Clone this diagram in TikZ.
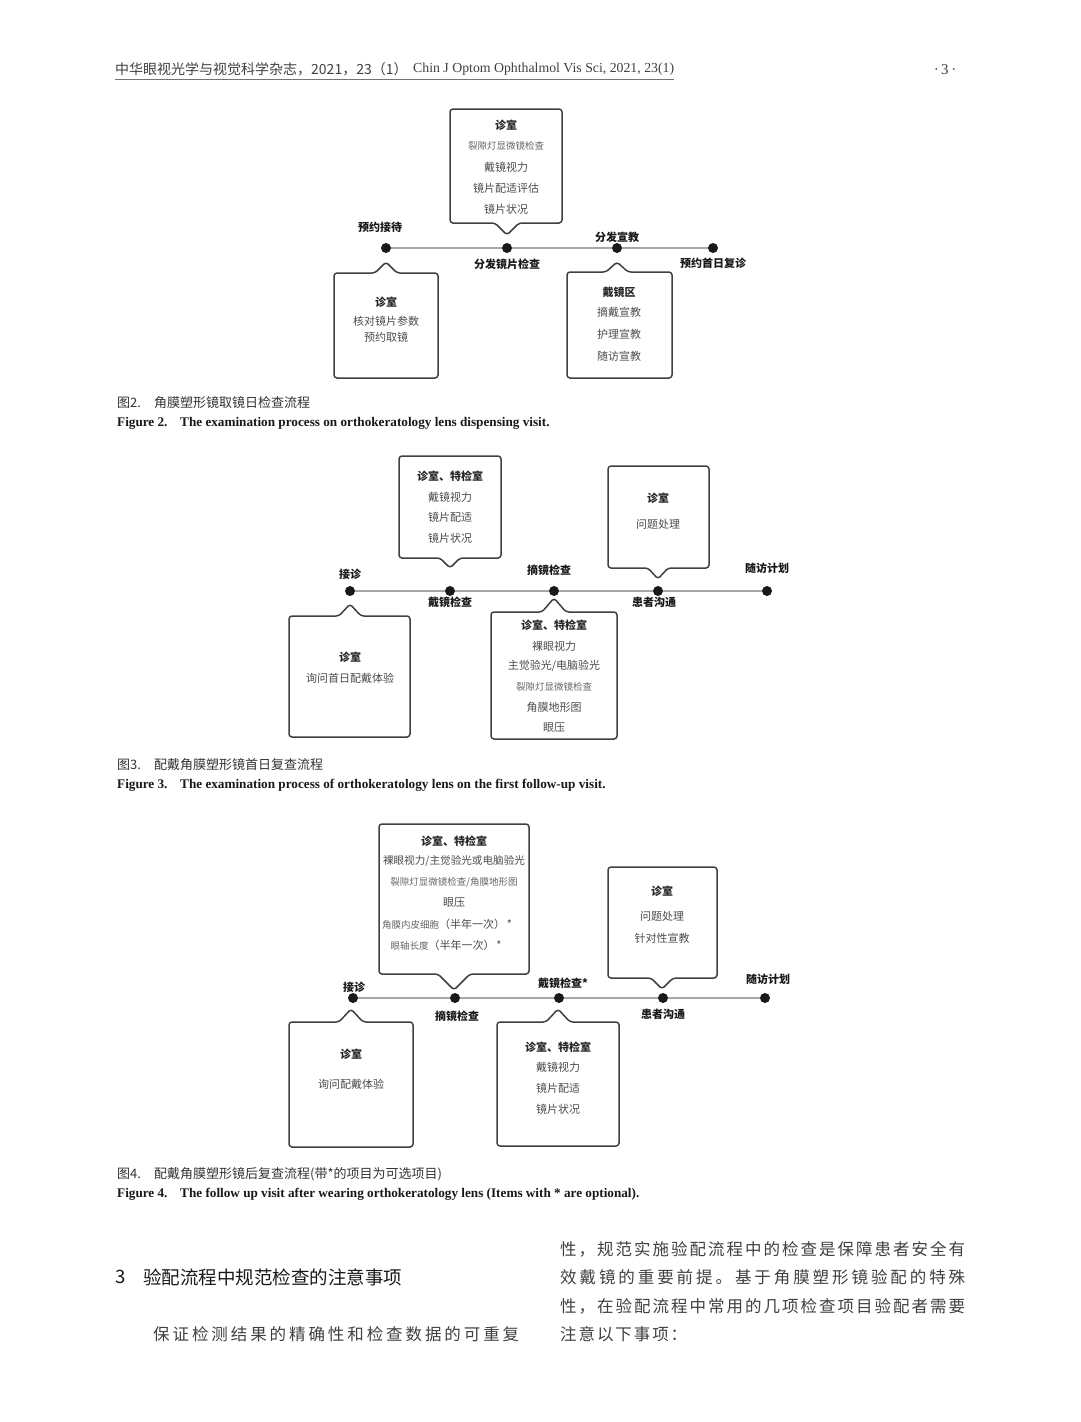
\documentclass[tikz,border=0pt]{standalone}
\usepackage{fontspec}
\setmainfont{Liberation Serif}
\newfontfamily\cjk{Noto Sans CJK SC}
\def\myspreadaux#1{\ifx\relax#1\else\hfil#1\expandafter\myspreadaux\fi}
\def\myspreadfirst#1{#1\myspreadaux}
\newcommand\myspread[2]{\makebox[#1][s]{\myspreadfirst#2\relax}}
\tikzset{
 bubble/.style={draw=black!75, line width=1.5pt, fill=white, rounded corners=3pt, line join=round},
 tl/.style={draw=black!35, line width=1.8pt},
 dot/.style={circle, fill=black!90, minimum size=10pt, inner sep=0pt},
 bt/.style={font=\cjk\fontsize{11}{13}\selectfont\bfseries, text=black!85, inner sep=0pt},
 it/.style={font=\cjk\fontsize{11}{13}\selectfont, text=black!70, inner sep=0pt},
 st/.style={font=\cjk\fontsize{9.5}{11}\selectfont, text=black!60, inner sep=0pt},
 lb/.style={font=\cjk\fontsize{11}{13}\selectfont\bfseries, text=black!90, inner sep=0pt},
 capc/.style={font=\cjk\fontsize{13}{15}\selectfont, text=black!80, inner sep=0pt, anchor=west},
 cape/.style={font=\fontsize{13.2}{15}\selectfont\bfseries, text=black!90, inner sep=0pt, anchor=west},
 body/.style={font=\cjk\fontsize{16.5}{20}\selectfont, text=black!75, inner sep=0pt, anchor=west},
}
\newcommand\bubdown[7]{\draw[bubble] (#1,#2) -- (#3,#2) -- (#3,#4) -- ({#5+#7},#4) -- (#5,#6) -- ({#5-#7},#4) -- (#1,#4) -- cycle;}
\newcommand\bubup[7]{\draw[bubble] (#1,#2) -- ({#5-#7},#2) -- (#5,#6) -- ({#5+#7},#2) -- (#3,#2) -- (#3,#4) -- (#1,#4) -- cycle;}
\begin{document}
\begin{tikzpicture}[x=1pt,y=-1pt]
\path[use as bounding box, fill=white] (0,0) rectangle (1080,1422);
% header
\node[anchor=west, inner sep=0pt, font=\cjk\fontsize{14}{16}\selectfont, text=black!75] (hcn) at (115,69) {中华眼视光学与视觉科学杂志，2021，23（1）};
\node[anchor=west, inner sep=0pt, font=\fontsize{13.8}{16}\selectfont, text=black!75] (hen) at (413,69) {Chin J Optom Ophthalmol Vis Sci, 2021, 23(1)};
\coordinate (ul1) at (115,79);
\coordinate (ul2) at (674,79);
\draw[black!55, line width=0.8pt] (ul1) -- (ul2);
\node[inner sep=0pt, font=\fontsize{15}{17}\selectfont, text=black!75] (pg) at (945,70) {·\,3\,·};

% ---------------- Figure 2
\bubdown{450}{109}{562}{223}{507}{235}{12}
\bubup{334}{273}{438}{378}{386}{262}{11}
\bubup{567}{272}{672}{378}{617}{262}{11}
\node[dot] (d21) at (386,248) {};
\node[dot] (d22) at (507,248) {};
\node[dot] (d23) at (617,248) {};
\node[dot] (d24) at (713,248) {};
\draw[tl] (d21) -- (d22) -- (d23) -- (d24);
\node[lb] (l21) at (380,227) {预约接待};
\node[lb] (l22) at (507,264) {分发镜片检查};
\node[lb] (l23) at (617,237) {分发宣教};
\node[lb] (l24) at (713,263) {预约首日复诊};
\node[bt] (t2a) at (506,125) {诊室};
\node[st] (t2b) at (506,146) {裂隙灯显微镜检查};
\node[it] (t2c) at (506,167) {戴镜视力};
\node[it] (t2d) at (506,188) {镜片配适评估};
\node[it] (t2e) at (506,209) {镜片状况};
\node[bt] (t2f) at (386,302) {诊室};
\node[it] (t2g) at (386,321) {核对镜片参数};
\node[it] (t2h) at (386,337) {预约取镜};
\node[bt] (t2i) at (619,292) {戴镜区};
\node[it] (t2j) at (619,312) {摘戴宣教};
\node[it] (t2k) at (619,334) {护理宣教};
\node[it] (t2l) at (619,356) {随访宣教};
\node[capc] (c2a) at (117,403) {图2.};
\node[capc] (c2b) at (154,403) {角膜塑形镜取镜日检查流程};
\node[cape] (c2c) at (117,423) {Figure 2.};
\node[cape] (c2d) at (180,423) {The examination process on orthokeratology lens dispensing visit.};

% ---------------- Figure 3
\bubdown{399}{456}{501}{558}{450}{568}{10}
\bubdown{608}{466}{709}{568}{658}{579}{10}
\bubup{289}{616}{410}{737}{350}{604}{11}
\bubup{491}{612}{617}{739}{554}{598}{12}
\node[dot] (d31) at (350,591) {};
\node[dot] (d32) at (450,591) {};
\node[dot] (d33) at (554,591) {};
\node[dot] (d34) at (658,591) {};
\node[dot] (d35) at (767,591) {};
\draw[tl] (d31) -- (d32) -- (d33) -- (d34) -- (d35);
\node[lb] (l31) at (350,574) {接诊};
\node[lb] (l32) at (450,602) {戴镜检查};
\node[lb] (l33) at (549,570) {摘镜检查};
\node[lb] (l34) at (654,602) {患者沟通};
\node[lb] (l35) at (767,568) {随访计划};
\node[bt] (t3a) at (450,476) {诊室、特检室};
\node[it] (t3b) at (450,497) {戴镜视力};
\node[it] (t3c) at (450,517) {镜片配适};
\node[it] (t3d) at (450,538) {镜片状况};
\node[bt] (t3e) at (658,498) {诊室};
\node[it] (t3f) at (658,524) {问题处理};
\node[bt] (t3g) at (350,657) {诊室};
\node[it] (t3h) at (350,678) {询问首日配戴体验};
\node[bt] (t3i) at (554,625) {诊室、特检室};
\node[it] (t3j) at (554,646) {裸眼视力};
\node[it] (t3k) at (554,666) {主觉验光/电脑验光};
\node[st] (t3l) at (554,687) {裂隙灯显微镜检查};
\node[it] (t3m) at (554,707) {角膜地形图};
\node[it] (t3n) at (554,728) {眼压};
\node[capc] (c3a) at (117,765) {图3.};
\node[capc] (c3b) at (154,765) {配戴角膜塑形镜首日复查流程};
\node[cape] (c3c) at (117,785) {Figure 3.};
\node[cape] (c3d) at (180,785) {The examination process of orthokeratology lens on the first follow-up visit.};

% ---------------- Figure 4
\bubdown{379}{824}{529}{974}{454}{990}{16}
\bubdown{608}{867}{717}{978}{662}{989}{11}
\bubup{289}{1022}{413}{1147}{351}{1009}{12}
\bubup{497}{1022}{619}{1146}{558}{1009}{12}
\node[dot] (d41) at (353,998) {};
\node[dot] (d42) at (455,998) {};
\node[dot] (d43) at (559,998) {};
\node[dot] (d44) at (663,998) {};
\node[dot] (d45) at (765,998) {};
\draw[tl] (d41) -- (d42) -- (d43) -- (d44) -- (d45);
\node[lb] (l41) at (354,987) {接诊};
\node[lb] (l42) at (457,1016) {摘镜检查};
\node[lb] (l43) at (563,983) {戴镜检查*};
\node[lb] (l44) at (663,1014) {患者沟通};
\node[lb] (l45) at (768,979) {随访计划};
\node[bt] (t4a) at (454,841) {诊室、特检室};
\node[it, font=\cjk\fontsize{10.6}{13}\selectfont] (t4b) at (454,861) {裸眼视力/主觉验光或电脑验光};
\node[st] (t4c) at (454,882) {裂隙灯显微镜检查/角膜地形图};
\node[it] (t4d) at (454,903) {眼压};
\node[it] (t4e) at (447,924) {{\fontsize{9.5}{11}\selectfont\color{black!60}角膜内皮细胞}（半年一次）\,*};
\node[it] (t4f) at (446,945) {{\fontsize{9.5}{11}\selectfont\color{black!60}眼轴长度}（半年一次）\,*};
\node[bt] (t4g) at (662,891) {诊室};
\node[it] (t4h) at (662,916) {问题处理};
\node[it] (t4i) at (662,938) {针对性宣教};
\node[bt] (t4j) at (351,1054) {诊室};
\node[it] (t4k) at (351,1084) {询问配戴体验};
\node[bt] (t4l) at (558,1047) {诊室、特检室};
\node[it] (t4m) at (558,1067) {戴镜视力};
\node[it] (t4n) at (558,1088) {镜片配适};
\node[it] (t4o) at (558,1109) {镜片状况};
\node[capc] (c4a) at (117,1174) {图4.};
\node[capc] (c4b) at (154,1174) {配戴角膜塑形镜后复查流程(带*的项目为可选项目)};
\node[cape] (c4c) at (117,1194) {Figure 4.};
\node[cape] (c4d) at (180,1194) {The follow up visit after wearing orthokeratology lens (Items with * are optional).};

% ---------------- body text
\node[body, font=\cjk\fontsize{18.5}{22}\selectfont, text=black!90] (s3n) at (115,1277) {3};
\node[body, font=\cjk\fontsize{18.5}{22}\selectfont, text=black!90] (s3t) at (143,1277) {\myspread{259pt}{验配流程中规范检查的注意事项}};
\node[body] (p1) at (153,1334) {\myspread{366pt}{保证检测结果的精确性和检查数据的可重复}};
\node[body] (p2) at (560,1249) {\myspread{405pt}{性，规范实施验配流程中的检查是保障患者安全有}};
\node[body] (p3) at (560,1277) {\myspread{405pt}{效戴镜的重要前提。基于角膜塑形镜验配的特殊}};
\node[body] (p4) at (560,1306) {\myspread{405pt}{性，在验配流程中常用的几项检查项目验配者需要}};
\node[body] (p5) at (560,1334) {\myspread{127pt}{注意以下事项：}};
\end{tikzpicture}
\end{document}
